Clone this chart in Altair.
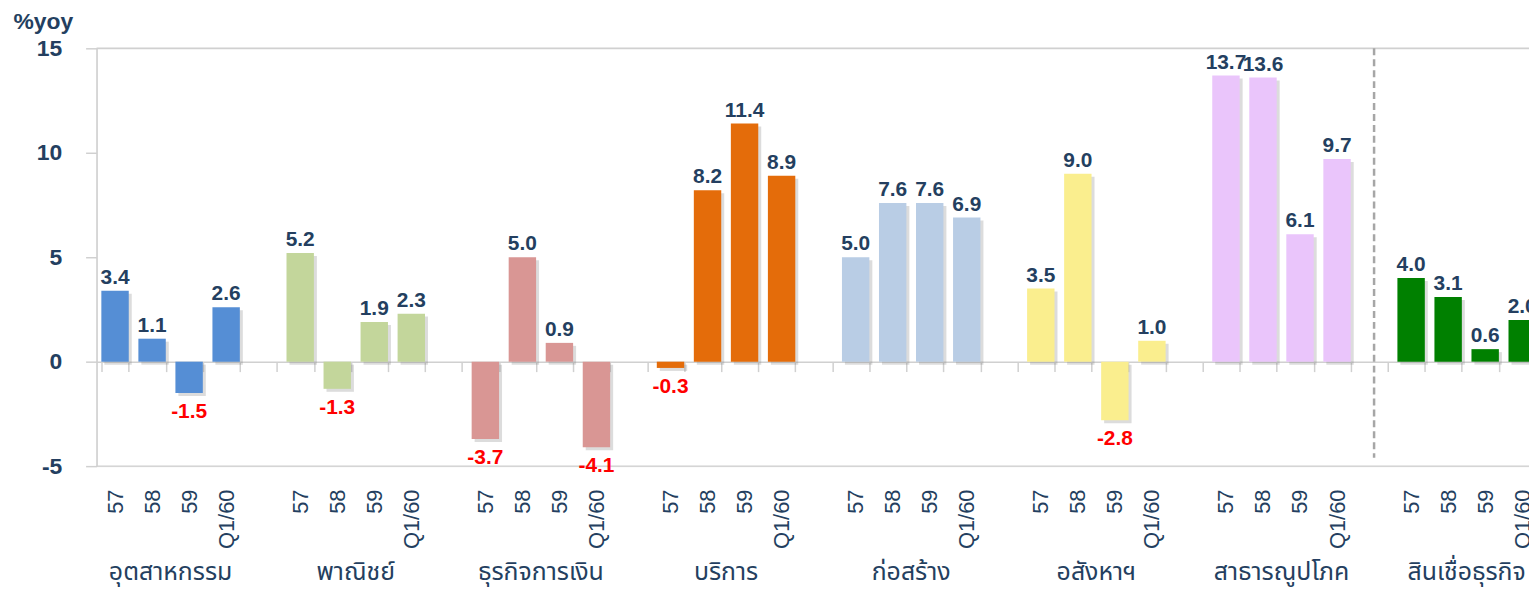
import altair as alt
import pandas as pd

groups = ["อุตสาหกรรม", "พาณิชย์", "ธุรกิจการเงิน", "บริการ", "ก่อสร้าง", "อสังหาฯ", "สาธารณูปโภค", "สินเชื่อธุรกิจ"]
periods = ["57", "58", "59", "Q1/60"]
v_industry = [3.4, 1.1, -1.5, 2.6]
v_commerce = [5.2, -1.3, 1.9, 2.3]
v_finance = [-3.7, 5.0, 0.9, -4.1]
v_services = [-0.3, 8.2, 11.4, 8.9]
v_construction = [5.0, 7.6, 7.6, 6.9]
v_realestate = [3.5, 9.0, -2.8, 1.0]
v_utilities = [13.7, 13.6, 6.1, 9.7]
v_credit = [4.0, 3.1, 0.6, 2.0]
series = [v_industry, v_commerce, v_finance, v_services, v_construction, v_realestate, v_utilities, v_credit]
colors = ["#558ED5", "#C3D69B", "#D99694", "#E46C0A", "#B9CDE5", "#FAEE8E", "#EAC5FB", "#008000"]

NAVY = "#243F60"
GRAY = "#D0D0D0"
NUM_FONT = "Liberation Sans"
THAI_FONT = "Noto Sans Thai, Loma, Garuda, Tahoma, Noto Sans, sans-serif"

slots = []
rows = []
for gi, g in enumerate(groups):
    for pi, p in enumerate(periods):
        sid = f"{gi}|{p}"
        slots.append(sid)
        v = series[gi][pi]
        rows.append({"slot": sid, "group": g, "period": p, "value": v,
                     "label": f"{v:.1f}", "color": colors[gi]})
    slots.append(f"{gi}|")
df = pd.DataFrame(rows)

grp_df = pd.DataFrame({"slot": [f"{gi}|58" for gi in range(len(groups))], "name": groups})
border_df = pd.DataFrame({"value": [15, -5]})
sep_df = pd.DataFrame({"slot": ["6|"], "value": [15], "value2": [-4.6]})

xscale = alt.Scale(domain=slots, range=[0, 1489], paddingInner=0.26, paddingOuter=0.13)
yscale = alt.Scale(domain=[-5, 15], nice=False, zero=False)

X = alt.X("slot:N", scale=xscale)
Y = alt.Y("value:Q", scale=yscale)

base = alt.Chart(df)

bars = base.mark_bar().encode(
    x=alt.X(
        "slot:N",
        scale=xscale,
        title=None,
        axis=alt.Axis(
            offset=-105,
            tickBand="extent",
            tickSize=10,
            tickColor=GRAY,
            tickWidth=1.5,
            domainColor=GRAY,
            domainWidth=1.5,
            labelAngle=270,
            labelPadding=118,
            labelFont=NUM_FONT,
            labelFontSize=22,
            labelColor=NAVY,
            labelOverlap=False,
            labelExpr="split(datum.label, '|')[1]",
        ),
    ),
    y=alt.Y(
        "value:Q",
        scale=yscale,
        axis=alt.Axis(
            values=[-5, 0, 5, 10, 15],
            grid=False,
            tickSize=11,
            tickColor=GRAY,
            tickWidth=1.5,
            domainColor=GRAY,
            domainWidth=1.5,
            labelFont=NUM_FONT,
            labelFontSize=23,
            labelFontWeight="bold",
            labelColor=NAVY,
            labelPadding=24,
            labelExpr="'' + datum.value",
            title="%yoy",
            titleAngle=0,
            titleX=-84,
            titleY=-20,
            titleAlign="left",
            titleBaseline="alphabetic",
            titleFont=NUM_FONT,
            titleFontSize=23,
            titleFontWeight="bold",
            titleColor=NAVY,
        ),
    ),
    color=alt.Color("color:N", scale=None),
)

shadow = base.mark_bar(color="#808080", opacity=0.28, xOffset=3, yOffset=3).encode(x=X, y=Y)

borders = alt.Chart(border_df).mark_rule(color=GRAY, strokeWidth=1.5).encode(y=Y)

sep = alt.Chart(sep_df).mark_rule(color="#A6A6A6", strokeWidth=2.5, strokeDash=[7, 4]).encode(
    x=X, y=Y, y2="value2:Q"
)

pos_labels = base.transform_filter("datum.value >= 0").mark_text(
    font=NUM_FONT, fontSize=21, fontWeight="bold", color=NAVY, baseline="alphabetic", dy=-7
).encode(x=X, y=Y, text="label:N")

neg_labels = base.transform_filter("datum.value < 0").mark_text(
    font=NUM_FONT, fontSize=21, fontWeight="bold", color="#FF0000", baseline="top", dy=8
).encode(x=X, y=Y, text="label:N")

grp_labels = alt.Chart(grp_df).mark_text(
    font=THAI_FONT, fontSize=25, color=NAVY, baseline="middle", dx=18.6
).encode(x=X, y=alt.value(526), text="name:N")

chart = (
    alt.layer(borders, shadow, bars, sep, pos_labels, neg_labels, grp_labels)
    .properties(
        width=1440,
        height=420,
        autosize=alt.AutoSizeParams(type="none"),
        padding={"left": 89, "top": 39, "right": 0, "bottom": 124},
    )
    .configure_view(stroke=None)
    .configure(background="white")
)

chart.save("out.html", embed_options={"renderer": "svg", "actions": False})
